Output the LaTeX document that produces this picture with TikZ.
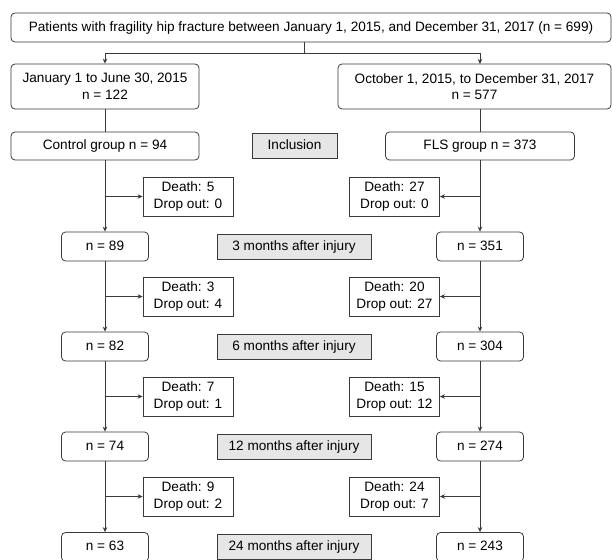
\documentclass[tikz,border=0pt]{standalone}
\usepackage{fontspec}
\setmainfont{Liberation Sans}
\usetikzlibrary{arrows.meta,calc}
\definecolor{ln}{HTML}{3A3A3A}
\definecolor{gfill}{HTML}{E6E6E6}
\begin{document}
\begin{tikzpicture}[x=1pt,y=-1pt,
  every node/.style={font=\fontsize{13.6}{16.5}\selectfont, inner sep=0pt, align=center},
  one/.style={text height=9.8pt, text depth=2.6pt},
  rbox/.style={draw=ln, line width=0.8pt, rounded corners=4pt, minimum height=#1},
  rbox/.default=29,
  dbox/.style={draw=ln, line width=0.8pt, minimum width=90, minimum height=39},
  gbox/.style={one, draw=ln, line width=0.8pt, fill=gfill, minimum height=25},
  conn/.style={draw=ln, line width=0.8pt},
  arr/.style={conn, -{Stealth[length=5pt,width=4.5pt]}}]
\useasboundingbox (0,0) rectangle (612,559);
\begin{scope}
\clip (0,0) rectangle (612,559);
\node[rbox, one, minimum width=600] (top) at (311,27.5) {Patients with fragility hip fracture between January 1, 2015, and December 31, 2017 (n = 699)};
\node[rbox=45, minimum width=188] (l1) at (105,86.5) {January 1 to June 30, 2015\\n = 122};
\node[rbox=45, minimum width=273] (r1) at (474.5,86.5) {October 1, 2015, to December 31, 2017\\n = 577};
\node[rbox=28, one, minimum width=188] (ctl) at (105,146) {Control group n = 94};
\node[rbox=28, one, minimum width=189] (fls) at (480,146) {FLS group n = 373};
\node[gbox, minimum width=85] (inc) at (294.5,146) {Inclusion};

\coordinate (j) at (304,53);
\coordinate (r1n) at (480,64);
\coordinate (r1s) at (480,109);
\draw[conn] (top.south -| j) -- (j);
\draw[arr] (j) -| (l1.north);
\draw[arr] (j) -| (r1n);
\draw[conn] (l1.south) -- (ctl.north);
\draw[conn] (r1s) -- (fls.north);

% rows
\node[dbox] (dl1) at (188,196.5) {Death: 5\\Drop out: 0};
\node[dbox] (dr1) at (394.5,196.5) {Death: 27\\Drop out: 0};
\node[rbox, one, minimum width=87] (nl1) at (105,246.5) {n = 89};
\node[rbox, one, minimum width=87] (nr1) at (480,246.5) {n = 351};
\node[gbox, minimum width=154] (g1) at (294,246.5) {3 months after injury};

\node[dbox] (dl2) at (188,296.5) {Death: 3\\Drop out: 4};
\node[dbox] (dr2) at (394.5,296.5) {Death: 20\\Drop out: 27};
\node[rbox, one, minimum width=87] (nl2) at (105,346.5) {n = 82};
\node[rbox, one, minimum width=87] (nr2) at (480,346.5) {n = 304};
\node[gbox, minimum width=154] (g2) at (294,346.5) {6 months after injury};

\node[dbox] (dl3) at (188,396.5) {Death: 7\\Drop out: 1};
\node[dbox] (dr3) at (394.5,396.5) {Death: 15\\Drop out: 12};
\node[rbox, one, minimum width=87] (nl3) at (105,446.5) {n = 74};
\node[rbox, one, minimum width=87] (nr3) at (480,446.5) {n = 274};
\node[gbox, minimum width=154] (g3) at (294,446.5) {12 months after injury};

\node[dbox] (dl4) at (188,496.5) {Death: 9\\Drop out: 2};
\node[dbox] (dr4) at (394.5,496.5) {Death: 24\\Drop out: 7};
\node[rbox, one, minimum width=87] (nl4) at (105,547) {n = 63};
\node[rbox, one, minimum width=87] (nr4) at (480,547) {n = 243};
\node[gbox, minimum width=154] (g4) at (294,547) {24 months after injury};

\draw[arr] (ctl.south) -- (nl1.north);
\draw[arr] (fls.south) -- (nr1.north);
\draw[arr] (nl1.south) -- (nl2.north);
\draw[arr] (nr1.south) -- (nr2.north);
\draw[arr] (nl2.south) -- (nl3.north);
\draw[arr] (nr2.south) -- (nr3.north);
\draw[arr] (nl3.south) -- (nl4.north);
\draw[arr] (nr3.south) -- (nr4.north);
\foreach \i in {1,2,3,4}{
  \draw[arr] (dl\i.west -| ctl.south) -- (dl\i.west);
  \draw[arr] (dr\i.east -| fls.south) -- (dr\i.east);
}
\end{scope}
\end{tikzpicture}
\end{document}
